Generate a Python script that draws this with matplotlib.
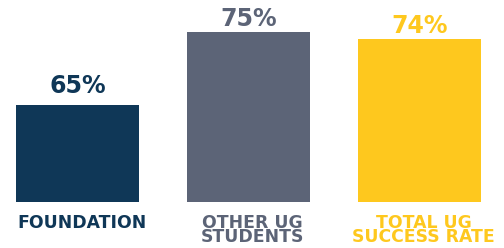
import matplotlib
matplotlib.use('Agg')
import matplotlib.pyplot as plt
import matplotlib.transforms as mtransforms

categories = ['FOUNDATION', 'OTHER UG\nSTUDENTS', 'TOTAL UG\nSUCCESS RATE']
values = [65, 75, 74]
value_labels = ['65%', '75%', '74%']
colors = ['#0f3757', '#5c6477', '#fec81e']

fig = plt.figure(figsize=(5.04, 2.48), dpi=100)
ax = fig.add_axes([0, 46 / 248, 1, 202 / 248])

x = list(range(len(values)))
base = 51.7
bars = ax.bar(x, [v - base for v in values], bottom=base, width=0.719, color=colors)

ax.set_xlim(-0.453, 2.494)
ax.set_ylim(base, 79.4)
ax.axis('off')

# label gap above bar tops (points)
gaps = [8.6, 4.3, 4.3]
for xi, v, lab, c, g in zip(x, values, value_labels, colors, gaps):
    ax.annotate(lab, (xi, v), xytext=(0, g), textcoords='offset points',
                ha='center', va='baseline', fontsize=17, fontweight='bold',
                color=c, family='DejaVu Sans')

trans = mtransforms.blended_transform_factory(ax.transData, ax.transAxes)
for xi, cat, c in zip(x, categories, colors):
    ax.annotate(cat, (xi, 0), xycoords=trans, xytext=(3, -8.5), textcoords='offset points',
                ha='center', va='top', fontsize=12.4, fontweight='bold', color=c,
                linespacing=0.76, family='DejaVu Sans')

fig.savefig('out.png', dpi=100)
